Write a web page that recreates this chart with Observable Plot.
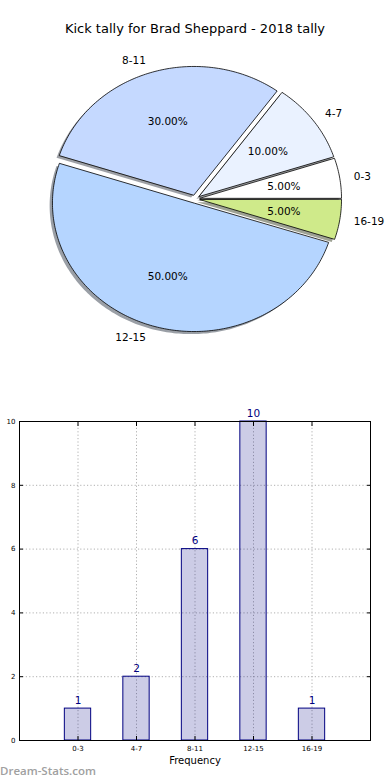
<!DOCTYPE html>
<html>
<head>
<meta charset="utf-8">
<script src="https://cdn.jsdelivr.net/npm/d3@7"></script>
<script src="https://cdn.jsdelivr.net/npm/@observablehq/plot@0.6"></script>
<style>
  html, body { margin: 0; padding: 0; background: #fff; }
  #wrap { position: relative; width: 390px; height: 780px; overflow: hidden; font-family: "DejaVu Sans", sans-serif; }
  #title { position: absolute; left: 0; width: 390px; top: 21px; text-align: center; font-size: 13px; color: #000; }
  #pie { position: absolute; left: 0; top: 0; }
  #bar { position: absolute; left: 0; top: 400px; }
  #mark { position: absolute; left: 0px; top: 763px; font-size: 11.5px; color: #a0a0a0; font-weight: 600; font-family: "Open Sans", "DejaVu Sans", sans-serif; }
</style>
</head>
<body>
<div id="wrap">
  <div id="pie"></div>
  <div id="title">Kick tally for Brad Sheppard - 2018 tally</div>
  <div id="bar"></div>
  <div id="mark">Dream-Stats.com</div>
</div>
<script>
const categories = ["0-3", "4-7", "8-11", "12-15", "16-19"];
const counts = [1, 2, 6, 10, 1];
const explode = [0.033, 0.033, 0.033, 0.033, 0.033];
const sliceColors = ["#ffffff", "#eaf2ff", "#c5d9ff", "#b5d5ff", "#cfea8a"];
const yTicks = [0, 2, 4, 6, 8, 10];
const titleText = "Kick tally for Brad Sheppard - 2018 tally";
const xLabel = "Frequency";
const yLabel = "Number of Kicks";

// ---------- pie geometry (from the values) ----------
const total = d3.sum(counts);
const wedges = [];
let acc = 0;
counts.forEach((c, i) => {
  const a0 = acc / total * 360;
  acc += c;
  const a1 = acc / total * 360;
  const mid = (a0 + a1) / 2 * Math.PI / 180;
  const ox = explode[i] * Math.cos(mid), oy = explode[i] * Math.sin(mid);
  wedges.push({i, cat: categories[i], pct: c / total * 100, a0, a1, mid, ox, oy, color: sliceColors[i]});
});
function wedgePoints(w, sx, sy, key) {
  const pts = [{k: key + w.i, x: w.ox + sx, y: w.oy + sy}];
  const n = Math.max(2, Math.ceil(w.a1 - w.a0));
  for (let j = 0; j <= n; j++) {
    const a = (w.a0 + (w.a1 - w.a0) * j / n) * Math.PI / 180;
    pts.push({k: key + w.i, x: w.ox + sx + Math.cos(a), y: w.oy + sy + Math.sin(a)});
  }
  return pts;
}
const slicePts = wedges.flatMap(w => wedgePoints(w, 0, 0, "s").map(p => ({...p, color: w.color})));
const shadowPts = wedges.flatMap(w => {
  const c = d3.rgb(w.color);
  const sc = d3.rgb(c.r * 0.3, c.g * 0.3, c.b * 0.3).formatHex();
  return wedgePoints(w, -0.02, -0.02, "h").map(p => ({...p, color: sc}));
});
const labels = wedges.map(w => ({
  text: w.cat,
  x: w.ox + 1.1 * Math.cos(w.mid),
  y: w.oy + 1.1 * Math.sin(w.mid),
  pct: w.pct.toFixed(2) + "%",
  px: w.ox + 0.6 * Math.cos(w.mid),
  py: w.oy + 0.6 * Math.sin(w.mid)
}));

const pie = Plot.plot({
  width: 390, height: 390,
  marginLeft: 53.4, marginRight: 53.6, marginTop: 70, marginBottom: 63,
  x: {domain: [-1, 1], axis: null},
  y: {domain: [-1, 1], axis: null},
  color: {type: "identity"},
  style: {fontFamily: "DejaVu Sans, sans-serif", background: "transparent"},
  marks: [
    Plot.line(shadowPts, {x: "x", y: "y", z: "k", fill: "color", fillOpacity: 0.5, stroke: "none", curve: "linear-closed"}),
    Plot.line(slicePts, {x: "x", y: "y", z: "k", fill: "color", stroke: "black", strokeWidth: 0.8, curve: "linear-closed", strokeLinejoin: "miter"}),
    Plot.text(labels.filter(d => d.x >= 0), {x: "x", y: "y", text: "text", textAnchor: "start", fontSize: 10.5, fill: "black"}),
    Plot.text(labels.filter(d => d.x < 0), {x: "x", y: "y", text: "text", textAnchor: "end", fontSize: 10.5, fill: "black"}),
    Plot.text(labels, {x: "px", y: "py", text: "pct", textAnchor: "middle", fontSize: 10.5, fill: "black"})
  ]
});
document.getElementById("pie").appendChild(pie);

// ---------- bar chart ----------
const barData = categories.map((c, i) => ({i, cat: c, count: counts[i]}));
const xIdx = categories.map((c, i) => i);
const bw = 0.225;

const bar = Plot.plot({
  width: 390, height: 380,
  marginLeft: 19, marginRight: 20, marginTop: 21, marginBottom: 40,
  x: {type: "linear", domain: [-1, 5]},
  y: {domain: [0, 10]},
  style: {fontFamily: "DejaVu Sans, sans-serif", background: "transparent", overflow: "visible"},
  marks: [
    Plot.gridX(xIdx, {stroke: "#b0b0b0", strokeOpacity: 1, strokeDasharray: "1.2,2.2"}),
    Plot.gridY(yTicks, {stroke: "#b0b0b0", strokeOpacity: 1, strokeDasharray: "1.2,2.2"}),
    Plot.rectY(barData, {x1: d => d.i - bw, x2: d => d.i + bw, y: "count", fill: "navy", fillOpacity: 0.2, stroke: "navy", strokeWidth: 1}),
    Plot.text(barData, {x: "i", y: "count", text: d => String(d.count), dy: -8, fill: "navy", fontSize: 10.5}),
    Plot.frame({stroke: "black"}),
    Plot.axisX(xIdx, {anchor: "bottom", tickSize: -4, tickPadding: 10, tickFormat: i => categories[i], fontSize: 7, label: null}),
    Plot.axisX(xIdx, {anchor: "top", tickSize: -4, tickFormat: () => "", label: null}),
    Plot.axisY(yTicks, {anchor: "left", tickSize: -4, tickPadding: 8, fontSize: 7, label: null}),
    Plot.axisY(yTicks, {anchor: "right", tickSize: -4, tickFormat: () => "", label: null}),
    Plot.text([xLabel], {x: 2, frameAnchor: "bottom", dy: 23, text: d => d, fontSize: 10, fill: "black"}),
    Plot.text([yLabel], {frameAnchor: "left", dx: -24, dy: -12, rotate: -90, text: d => d, fontSize: 10, fill: "black"})
  ]
});
document.getElementById("bar").appendChild(bar);
</script>
</body>
</html>
